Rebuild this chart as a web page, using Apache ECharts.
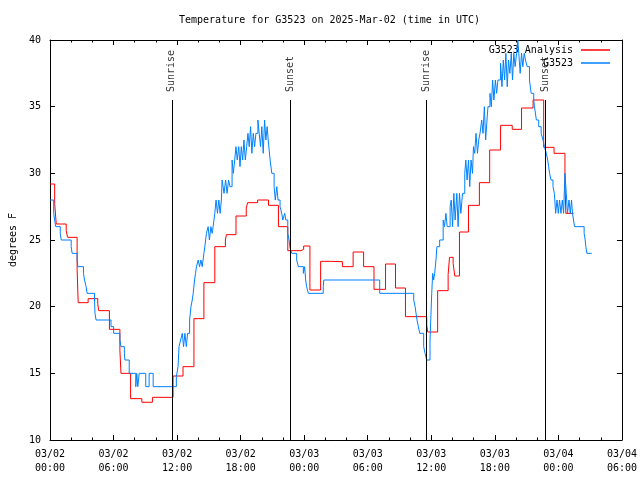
<!DOCTYPE html>
<html>
<head>
<meta charset="utf-8">
<script src="https://cdn.jsdelivr.net/npm/echarts@6/dist/echarts.min.js"></script>
<style>
html,body{margin:0;padding:0;background:#fff;}
#chart{width:640px;height:480px;}
</style>
</head>
<body>
<div id="chart"></div>
<script>
// Hours since 2025-03-02 00:00 UTC
const xTickLabels = ['03/02\n00:00','03/02\n06:00','03/02\n12:00','03/02\n18:00','03/03\n00:00','03/03\n06:00','03/03\n12:00','03/03\n18:00','03/04\n00:00','03/04\n06:00'];
const seriesNames = ['G3523 Analysis', 'G3523'];
const sunHours = [11.5, 22.7, 35.5, 46.75];
const sunLabels = ['Sunrise', 'Sunset', 'Sunrise', 'Sunset'];

// G3523 Analysis [hour, degF]
const analysisData = [
[0,29.2],[0.44,27.75],[0.59,26.2],[1.53,25.7],[1.66,25.2],[2.56,22.8],[2.66,20.3],[3.6,20.6],[4.51,20.2],[4.6,19.7],
[5.61,18.3],[6.6,16.75],[6.7,15.0],[7.61,13.1],[8.67,12.83],[9.67,13.2],[11.62,14.8],[12.56,15.5],[13.59,19.1],[14.53,21.8],
[15.56,24.5],[16.56,25.0],[16.65,25.4],[17.56,26.8],[18.53,27.4],[18.66,27.8],[19.6,28.0],[20.63,27.6],[21.57,26.0],[22.45,24.2],
[23.7,24.3],[23.95,24.55],[24.54,21.25],[25.55,23.4],[26.58,23.37],[27.61,23.0],[28.62,24.1],[29.61,23.0],[30.59,21.3],[31.68,23.2],
[32.62,21.4],[33.56,19.25],[35.57,18.6],[35.66,18.1],[36.6,21.2],[37.59,22.4],[37.72,23.7],[38.06,23.25],[38.22,22.3],[38.66,25.6],
[39.51,27.6],[40.54,29.3],[41.51,31.75],[42.54,33.6],[43.64,33.3],[44.52,34.9],[45.61,35.5],[46.61,31.95],[47.59,31.5],[48.62,29.3],
[48.7,27.0],[49.43,27.0]
];

// G3523 station [hour, degF]
const stationData = [
[0,28.0],[0.35,27.0],[0.44,26.5],[0.54,26.0],[0.97,25.5],[1.06,25.0],[2.0,24.5],[2.09,24.0],[2.56,23.5],[2.63,23.0],
[3.16,22.5],[3.26,22.0],[3.41,21.5],[3.5,21.0],[4.2,20.5],[4.25,19.5],[4.35,19.0],[5.76,18.5],[6.01,18.0],[6.6,17.5],
[6.7,17.0],[7.02,16.5],[7.07,16.0],[7.48,15.0],[8.1,14.0],[8.19,15.0],[8.29,14.0],[8.42,15.0],[9.04,14.0],[9.36,15.0],
[9.74,14.0],[11.93,14.75],[12.09,15.5],[12.18,17.0],[12.33,17.5],[12.49,18.0],[12.61,17.0],[12.74,18.0],[12.87,17.0],[12.99,18.0],
[13.18,19.0],[13.31,20.0],[13.43,20.5],[13.52,21.0],[13.65,22.0],[13.74,22.5],[13.83,23.0],[13.99,23.5],[14.12,23.0],[14.25,23.5],
[14.37,23.0],[14.53,24.0],[14.62,24.5],[14.77,25.5],[14.93,26.0],[15.05,25.0],[15.19,26.0],[15.31,25.5],[15.4,26.0],[15.56,27.0],
[15.68,28.0],[15.81,27.0],[15.94,28.0],[16.06,27.0],[16.18,28.0],[16.25,29.5],[16.43,28.5],[16.58,29.5],[16.72,28.5],[16.86,29.5],
[17.0,29.0],[17.19,31.0],[17.31,30.0],[17.44,31.0],[17.56,32.0],[17.68,31.0],[17.82,32.0],[17.94,30.5],[18.06,32.0],[18.19,31.0],
[18.31,32.5],[18.44,31.0],[18.57,32.0],[18.69,33.0],[18.81,32.0],[18.94,33.5],[19.06,31.5],[19.19,33.0],[19.32,32.0],[19.44,33.0],
[19.63,34.0],[19.75,33.0],[19.88,32.0],[20.0,33.5],[20.13,31.5],[20.26,34.0],[20.38,32.5],[20.5,33.5],[20.6,32.5],[20.78,31.0],
[20.94,30.0],[21.16,29.0],[21.27,28.0],[21.41,29.0],[21.53,28.0],[21.72,27.5],[21.88,27.0],[21.98,26.5],[22.16,27.0],[22.26,26.5],
[22.45,25.5],[22.57,25.0],[22.66,24.4],[22.82,24.0],[23.29,23.5],[23.45,23.0],[23.92,22.5],[24.04,23.0],[24.14,22.0],[24.23,21.5],
[24.39,21.0],[25.8,21.5],[25.85,22.0],[31.13,21.0],[34.34,20.5],[34.47,20.0],[34.56,19.5],[34.65,19.0],[34.78,18.5],[34.91,18.0],
[35.28,17.0],[35.41,16.5],[35.56,16.0],[35.88,17.5],[36.04,21.0],[36.13,22.5],[36.22,22.0],[36.32,22.5],[36.44,23.5],[36.53,24.5],
[36.79,25.0],[37.12,26.5],[37.25,26.0],[37.38,27.0],[37.5,26.0],[37.78,27.5],[37.88,28.0],[38.01,26.0],[38.13,28.5],[38.25,26.5],
[38.41,28.5],[38.53,26.0],[38.66,28.5],[38.79,27.0],[38.95,28.5],[39.16,30.0],[39.26,31.0],[39.38,29.5],[39.51,31.0],[39.63,29.0],
[39.75,31.0],[39.89,30.0],[39.98,32.0],[40.1,31.5],[40.22,33.0],[40.36,31.5],[40.48,32.5],[40.6,33.0],[40.76,34.0],[40.88,33.0],
[41.01,35.0],[41.13,32.5],[41.26,34.0],[41.35,35.0],[41.54,36.0],[41.67,35.0],[41.79,37.0],[41.91,35.5],[42.05,37.0],[42.17,36.0],
[42.29,37.0],[42.54,38.25],[42.67,36.5],[42.8,38.5],[42.92,37.0],[43.04,39.0],[43.17,36.5],[43.29,38.5],[43.42,37.5],[43.55,39.0],
[43.67,37.0],[43.79,39.0],[43.92,38.0],[44.05,39.0],[44.17,40.0],[44.26,39.0],[44.39,37.5],[44.52,39.0],[44.64,38.0],[44.77,39.0],
[44.89,38.5],[45.05,38.0],[45.27,37.0],[45.43,36.0],[45.67,35.5],[45.74,35.0],[45.92,34.0],[46.14,33.5],[46.37,33.0],[46.55,32.5],
[46.68,32.0],[46.86,31.5],[46.99,31.0],[47.08,30.5],[47.17,30.0],[47.3,29.5],[47.49,29.0],[47.62,28.5],[47.74,27.0],[47.87,28.0],
[47.99,27.0],[48.11,28.0],[48.24,27.0],[48.37,28.0],[48.49,27.0],[48.62,30.0],[48.74,28.5],[48.86,27.0],[49.0,28.0],[49.12,27.0],
[49.24,28.0],[49.33,27.0],[49.43,26.5],[49.52,26.0],[50.43,25.5],[50.53,25.0],[50.59,24.5],[50.69,24.0],[51.15,24.0]
];

const FONT = 'DejaVu Sans Mono';
const chart = echarts.init(document.getElementById('chart'), null, {renderer: 'canvas'});

const axisLineStyle = {color: '#000', width: 1};
function xAxisCfg(pos, showLabels) {
  return {
    type: 'value', position: pos, min: 0, max: 54, interval: 6,
    axisLine: {show: true, onZero: false, lineStyle: axisLineStyle},
    axisTick: {show: true, inside: true, length: 5, lineStyle: axisLineStyle},
    minorTick: {show: true, splitNumber: 3, length: 2.5, lineStyle: axisLineStyle},
    splitLine: {show: false},
    axisLabel: {
      show: showLabels, margin: 7, fontFamily: FONT, fontSize: 10, color: '#000', lineHeight: 14,
      formatter: v => xTickLabels[Math.round(v / 6)]
    }
  };
}
function yAxisCfg(pos, showLabels) {
  return {
    type: 'value', position: pos, min: 10, max: 40, interval: 5,
    name: showLabels ? 'degrees F' : '', nameLocation: 'middle', nameGap: 32, nameRotate: 90,
    nameTextStyle: {fontFamily: FONT, fontSize: 10, color: '#000'},
    axisLine: {show: true, onZero: false, lineStyle: axisLineStyle},
    axisTick: {show: true, inside: true, length: 5, lineStyle: axisLineStyle},
    splitLine: {show: false},
    axisLabel: {show: showLabels, margin: 9, fontFamily: FONT, fontSize: 10, color: '#000'}
  };
}

const legendBase = {
  orient: 'vertical', right: 30, padding: 0, icon: 'rect', itemWidth: 29, itemHeight: 1.5,
  align: 'right', selectedMode: false,
  textStyle: {fontFamily: FONT, fontSize: 10, color: '#000', padding: [0, 3, 0, 0]}
};

chart.setOption({
  animation: false,
  backgroundColor: '#fff',
  title: {
    text: 'Temperature for G3523 on 2025-Mar-02 (time in UTC)',
    left: 179, top: 15, padding: 0,
    textStyle: {fontFamily: FONT, fontSize: 10, fontWeight: 'normal', color: '#000'}
  },
  legend: [
    Object.assign({}, legendBase, {top: 45, data: [seriesNames[0]]}),
    Object.assign({}, legendBase, {top: 58, data: [seriesNames[1]]})
  ],
  grid: {left: 47, right: 18, top: 40, bottom: 40, containLabel: false},
  xAxis: [xAxisCfg('bottom', true), xAxisCfg('top', false)],
  yAxis: [yAxisCfg('left', true), yAxisCfg('right', false)],
  series: [
    {
      name: seriesNames[0], type: 'line', step: 'end', showSymbol: false, symbol: 'none',
      data: analysisData, lineStyle: {color: '#ff0000', width: 1}, itemStyle: {color: '#ff0000'},
      xAxisIndex: 0, yAxisIndex: 0, z: 3
    },
    {
      name: seriesNames[1], type: 'line', step: 'end', showSymbol: false, symbol: 'none',
      data: stationData, lineStyle: {color: '#0080ff', width: 1}, itemStyle: {color: '#0080ff'},
      xAxisIndex: 0, yAxisIndex: 0, z: 4
    },
    {
      name: 'sun', type: 'scatter', symbolSize: 0, xAxisIndex: 0, yAxisIndex: 0, z: 5,
      data: sunHours.map((h, i) => ({value: [h, 36.1], name: sunLabels[i]})),
      label: {
        show: true, formatter: '{b}', position: 'inside', rotate: 90, align: 'left', verticalAlign: 'middle',
        fontFamily: FONT, fontSize: 10, color: '#000'
      },
      markLine: {
        silent: true, symbol: 'none', animation: false,
        lineStyle: {color: '#000', width: 1, type: 'solid'},
        label: {show: false},
        data: sunHours.map(h => [{coord: [h, 10]}, {coord: [h, 35.5]}])
      }
    }
  ]
});
</script>
</body>
</html>
